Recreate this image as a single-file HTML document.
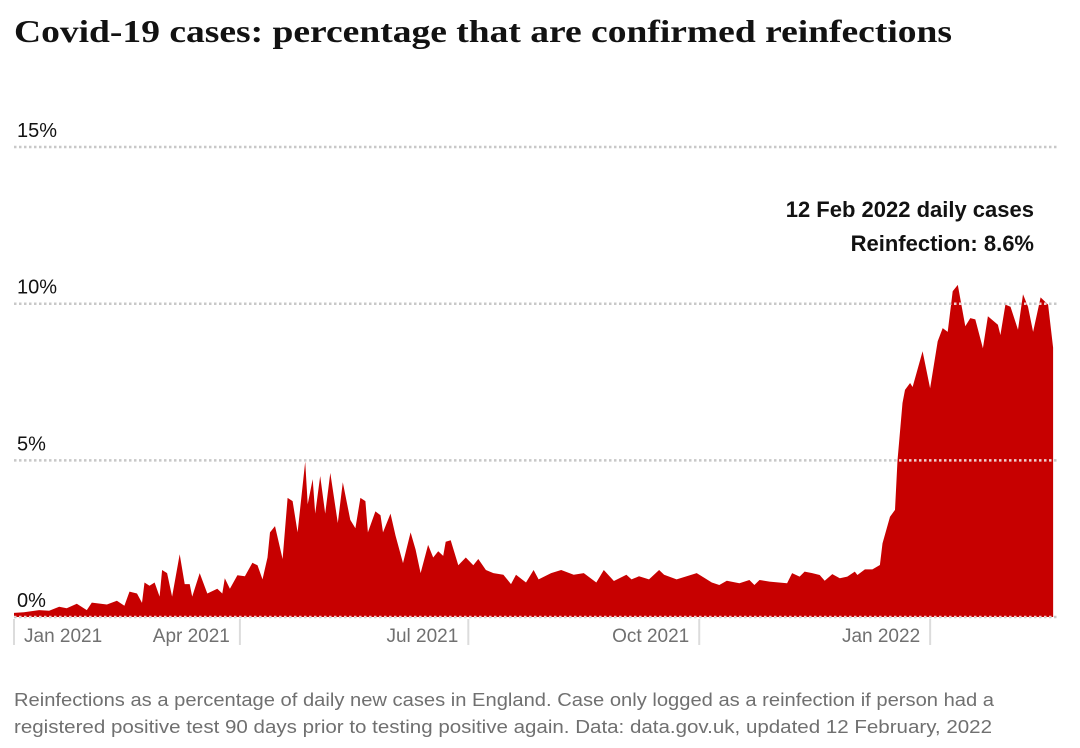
<!DOCTYPE html>
<html><head><meta charset="utf-8"><style>
html,body{margin:0;padding:0;background:#fff;width:1080px;height:748px;overflow:hidden}
svg{display:block;font-family:"Liberation Sans",sans-serif}
</style></head><body>
<svg id="chart" width="1080" height="748" viewBox="0 0 1080 748">
<text x="14" y="42" font-family="Liberation Serif, serif" font-weight="bold" font-size="32" fill="#121212" textLength="938" lengthAdjust="spacingAndGlyphs">Covid-19 cases: percentage that are confirmed reinfections</text>
<g id="grid"></g>
<g id="area"></g>
<g id="overlay"></g>
<g id="xaxis"></g>
<text x="1034" y="217" text-anchor="end" font-weight="bold" font-size="22" fill="#121212">12 Feb 2022 daily cases</text>
<text x="1034" y="251" text-anchor="end" font-weight="bold" font-size="22" fill="#121212">Reinfection: 8.6%</text>
<text x="14" y="706" font-size="18.5" fill="#707070" textLength="980" lengthAdjust="spacingAndGlyphs">Reinfections as a percentage of daily new cases in England. Case only logged as a reinfection if person had a</text>
<text x="14" y="733" font-size="18.5" fill="#707070" textLength="978" lengthAdjust="spacingAndGlyphs">registered positive test 90 days prior to testing positive again. Data: data.gov.uk, updated 12 February, 2022</text>
</svg>
<script>
// days since 1 Jan 2021
const days=[0,4,10,14,18,21,25,29,31,37,41,44,46,49,51,52,54,56,58,59,61,63,66,68,70,71,74,77,81,83,84,86,89,92,95,97,99,101,102,104,107,109,111,113,116,117,119,120,122,124,126,129,131,134,136,138,140,141,144,146,147,150,152,155,158,160,162,165,167,169,171,172,174,177,180,183,185,188,191,195,198,200,204,207,209,214,218,223,227,232,235,239,244,246,249,253,257,259,264,268,272,275,278,281,284,289,293,295,297,301,308,310,313,315,318,321,323,326,329,332,335,336,339,342,345,346,349,351,352,354,355,357,358,362,365,368,370,372,374,376,379,381,383,386,388,392,393,395,397,400,402,404,406,409,412,414];
const values=[0.13,0.15,0.22,0.2,0.33,0.28,0.42,0.22,0.46,0.4,0.52,0.36,0.81,0.75,0.45,1.1,1.0,1.1,0.65,1.5,1.4,0.65,2.0,1.05,1.05,0.65,1.4,0.75,0.9,0.75,1.24,0.9,1.33,1.3,1.73,1.65,1.2,1.9,2.7,2.9,1.85,3.8,3.7,2.7,4.96,3.6,4.4,3.3,4.5,3.3,4.6,3.0,4.3,3.1,2.83,3.8,3.7,2.7,3.37,3.25,2.7,3.3,2.6,1.72,2.7,2.15,1.4,2.3,1.9,2.1,1.95,2.4,2.45,1.65,1.9,1.65,1.85,1.5,1.4,1.35,1.05,1.35,1.1,1.5,1.2,1.4,1.5,1.35,1.4,1.1,1.5,1.15,1.35,1.2,1.3,1.2,1.5,1.35,1.2,1.3,1.4,1.25,1.1,1.02,1.16,1.08,1.18,1.02,1.18,1.13,1.08,1.4,1.29,1.45,1.4,1.34,1.16,1.37,1.24,1.29,1.45,1.34,1.52,1.52,1.66,2.35,3.2,3.42,5.0,6.83,7.25,7.47,7.34,8.48,7.3,8.8,9.22,9.1,10.4,10.6,9.28,9.54,9.5,8.58,9.6,9.33,9.0,9.97,9.9,9.17,10.3,9.9,9.1,10.2,9.97,8.6];
const yTicks=[0,5,10,15];
const yTickLabels=["0%","5%","10%","15%"];
const xTickDays=[0,90,181,273,365];
const xTickLabels=["Jan 2021","Apr 2021","Jul 2021","Oct 2021","Jan 2022"];

const NS="http://www.w3.org/2000/svg";
const X=d=>14+d*2.51;
const Y=v=>617-v*31.33;
function mk(tag,attrs,parent){const e=document.createElementNS(NS,tag);for(const k in attrs)e.setAttribute(k,attrs[k]);parent.appendChild(e);return e;}
const grid=document.getElementById('grid'),area=document.getElementById('area'),ov=document.getElementById('overlay'),xa=document.getElementById('xaxis');

yTicks.forEach((t,i)=>{
  const l=mk('line',{x1:14,x2:1058,y1:Y(t),y2:Y(t),stroke:'#c8c8c8','stroke-width':2.5,'stroke-dasharray':'2.5,2.5'},grid);
  
  
  const tx=mk('text',{x:17,y:Y(t)-10,'font-size':20,fill:'#121212'},ov);
  tx.textContent=yTickLabels[i];
  
  
});

let d='M'+X(days[0])+','+Y(0);
days.forEach((dd,i)=>{d+=' L'+X(dd).toFixed(1)+','+Y(values[i]).toFixed(1);});
d+=' L'+X(days[days.length-1])+','+Y(0)+' Z';
const p=mk('path',{d:d,fill:'#c70000'},area);



const cp=mk('clipPath',{id:'ac'},area);
mk('path',{d:d},cp);
yTicks.forEach(t=>{
  const l=mk('line',{x1:14,x2:1058,y1:Y(t),y2:Y(t),stroke:'#f0d0d0','stroke-width':2.5,'stroke-dasharray':'2.5,2.5','clip-path':'url(#ac)'},area);
  
  
});

xTickDays.forEach((dd,i)=>{
  const x=X(dd);
  const l=mk('line',{x1:x,x2:x,y1:619,y2:645,stroke:'#dcdcdc','stroke-width':2},xa);
  
  
  const tx=mk('text',{x:i===0?24:x-10,y:642,'font-size':19,fill:'#707070','text-anchor':i===0?'start':'end'},xa);
  tx.textContent=xTickLabels[i];
  
  
});
</script>
</body></html>
